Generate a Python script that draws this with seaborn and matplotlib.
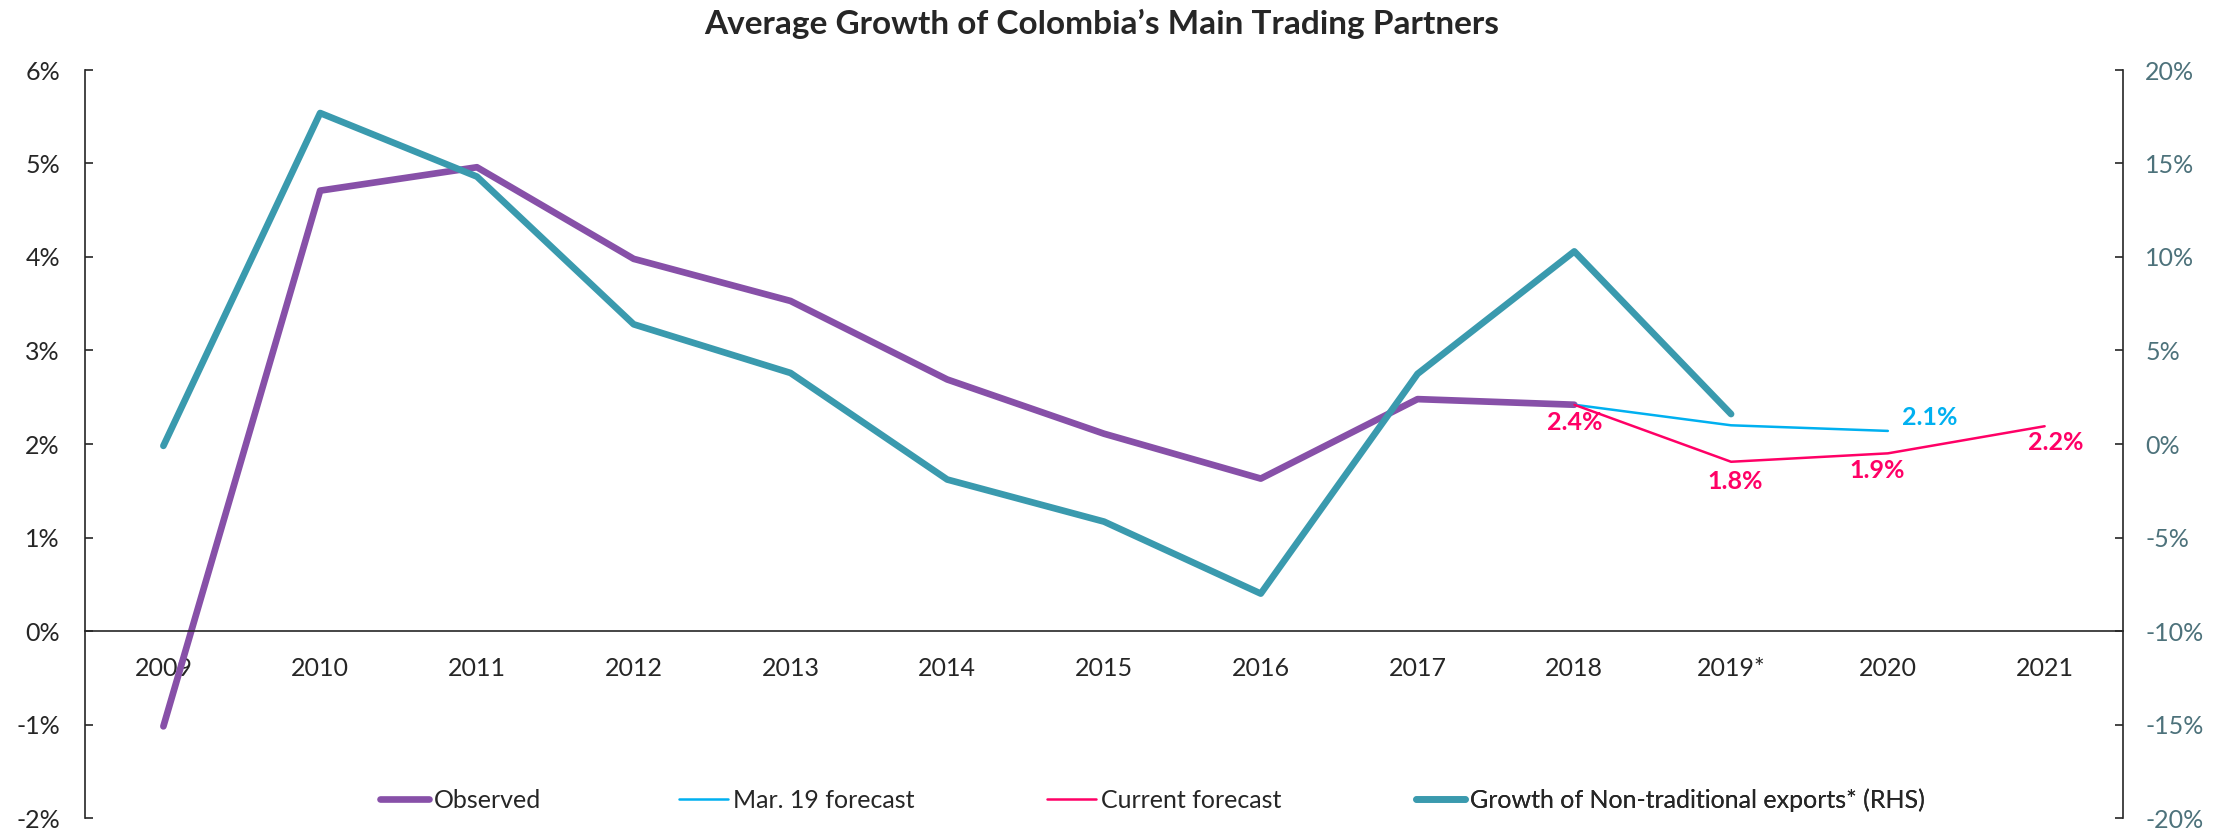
import numpy as np
import pandas as pd
import matplotlib
matplotlib.use("Agg")
import matplotlib.pyplot as plt
from matplotlib.ticker import FuncFormatter, MultipleLocator
import seaborn as sns

# ---- data -------------------------------------------------------------
years = ["2009", "2010", "2011", "2012", "2013", "2014", "2015",
         "2016", "2017", "2018", "2019*", "2020", "2021"]

observed = [-1.02, 4.71, 4.96, 3.98, 3.53, 2.69, 2.11, 1.63, 2.48, 2.42]   # 2009-2018
mar19_forecast = [2.42, 2.20, 2.14]                                       # 2018-2020
current_forecast = [2.42, 1.81, 1.90, 2.19]                               # 2018-2021
nontrad_exports = [-0.1, 17.7, 14.3, 6.4, 3.8, -1.9, -4.15, -8.0, 3.75, 10.3, 1.6]  # 2009-2019, RHS

# ---- styling ------------------------------------------------------------
sns.set_theme(style="white")
plt.rcParams["font.family"] = ["Lato", "DejaVu Sans"]

C_OBS = "#8750A8"
C_MAR = "#00B0F0"
C_CUR = "#FF0066"
C_EXP = "#3A9AAE"
C_AX = "#262626"
C_RHS = "#4D727B"

pos = np.arange(len(years))
df_obs = pd.DataFrame({"x": pos[:len(observed)], "y": observed})
df_mar = pd.DataFrame({"x": pos[9:9 + len(mar19_forecast)], "y": mar19_forecast})
df_cur = pd.DataFrame({"x": pos[9:9 + len(current_forecast)], "y": current_forecast})
df_exp = pd.DataFrame({"x": pos[:len(nontrad_exports)], "y": nontrad_exports})

fig = plt.figure(figsize=(22.16, 8.30), dpi=100)
ax = fig.add_axes([85 / 2216, 1 - 818 / 830, (2123 - 85) / 2216, (818 - 70) / 830])
ax2 = ax.twinx()

sns.lineplot(data=df_obs, x="x", y="y", ax=ax, color=C_OBS, lw=4.8,
             solid_capstyle="round", label="Observed", legend=False)
sns.lineplot(data=df_mar, x="x", y="y", ax=ax, color=C_MAR, lw=1.8,
             label="Mar. 19 forecast", legend=False)
sns.lineplot(data=df_cur, x="x", y="y", ax=ax, color=C_CUR, lw=1.8,
             label="Current forecast", legend=False)
sns.lineplot(data=df_exp, x="x", y="y", ax=ax2, color=C_EXP, lw=4.8,
             solid_capstyle="round", label="Growth of Non-traditional exports* (RHS)",
             legend=False)

# value labels
def pct(v):
    return f"{v:.1f}%"

label_offsets = [(0, -13), (3, -14), (-8, -12), (8, -12)]
for (xv, yv), off in zip(df_cur.itertuples(index=False), label_offsets):
    ax.annotate(pct(yv), (xv, yv), xytext=off, textcoords="offset points",
                ha="center", va="center", color=C_CUR, fontsize=18, fontweight="bold")
ax.annotate(pct(mar19_forecast[-1]), (df_mar["x"].iloc[-1], mar19_forecast[-1]),
            xytext=(30, 10), textcoords="offset points", ha="center", va="center",
            color=C_MAR, fontsize=18, fontweight="bold")

# axes
ax.set_xlim(-0.5, len(years) - 0.5)
ax.set_ylim(-2, 6)
ax2.set_ylim(-20, 20)
ax.yaxis.set_major_locator(MultipleLocator(1))
ax2.yaxis.set_major_locator(MultipleLocator(5))
ax.yaxis.set_major_formatter(FuncFormatter(lambda v, p: f"{v:.0f}%"))
ax2.yaxis.set_major_formatter(FuncFormatter(lambda v, p: f"{v:.0f}%"))
ax.set_xticks(pos)
ax.set_xticklabels(years)
ax.set_xlabel("")
ax.set_ylabel("")
ax2.set_ylabel("")

for a in (ax, ax2):
    a.spines["top"].set_visible(False)
    for s in a.spines.values():
        s.set_color(C_AX)
        s.set_linewidth(1.2)
ax2.spines["left"].set_visible(False)
ax2.spines["bottom"].set_visible(False)
ax.spines["right"].set_visible(False)
ax.spines["bottom"].set_position(("data", 0))

ax.tick_params(axis="y", direction="in", length=6, width=1.2, color=C_AX,
               labelsize=18, labelcolor=C_AX, pad=18, left=True)
ax2.tick_params(axis="y", direction="in", length=6, width=1.2, color=C_AX,
                labelsize=18, labelcolor=C_RHS, pad=16, right=True)
ax.tick_params(axis="x", length=0, labelsize=18, labelcolor=C_AX, pad=19)
ax.grid(False)
ax2.grid(False)

# legend: one entry per slot along the bottom
h1, l1 = ax.get_legend_handles_labels()
h2, l2 = ax2.get_legend_handles_labels()
slots = [0.1715, 0.3064, 0.4725, 0.639]
for h, l, xs in zip(h1 + h2, l1 + l2, slots):
    lg = ax2.legend([h], [l], frameon=False, fontsize=18, loc="center left",
                    bbox_to_anchor=(xs, 0.036), bbox_transform=fig.transFigure,
                    handlelength=1.95, handletextpad=0.2, borderpad=0,
                    borderaxespad=0)
    lg.get_texts()[0].set_color(C_AX)
    ax2.add_artist(lg)

fig.text(0.497, 0.971, "Average Growth of Colombia\u2019s Main Trading Partners",
         ha="center", va="center", fontsize=24, fontweight="bold", color=C_AX)

fig.savefig("out.png", dpi=100)
